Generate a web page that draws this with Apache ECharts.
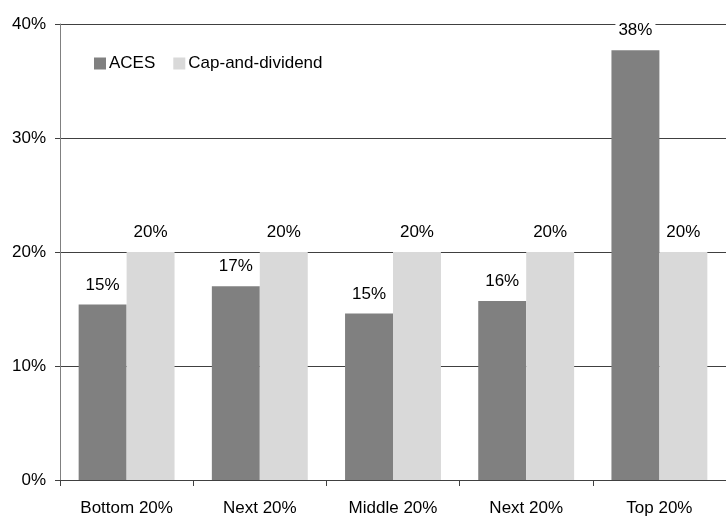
<!DOCTYPE html>
<html>
<head>
<meta charset="utf-8">
<script src="https://cdn.jsdelivr.net/npm/echarts@6/dist/echarts.min.js"></script>
<style>
  html, body { margin: 0; padding: 0; background: #fff; }
  #main { width: 726px; height: 520px; }
</style>
</head>
<body>
<div id="main"></div>
<script>
// 数据
var categories = ['Bottom 20%', 'Next 20%', 'Middle 20%', 'Next 20%', 'Top 20%'];
var acesValues = [15.4, 17.0, 14.6, 15.7, 37.7];
var capValues = [20, 20, 20, 20, 20];
var yTicks = [0, 10, 20, 30, 40];

var FONT = '"Liberation Sans", Arial, sans-serif';

var myChart = echarts.init(document.getElementById('main'));

var labelStyle = {
	show: true,
	position: 'top',
	distance: 10,
	fontFamily: FONT,
	fontSize: 17,
	color: '#000',
	backgroundColor: '#fff',
	padding: [1, 3],
	formatter: function(p){
		return Math.round(p.value) + '%';
	}
};

var option = {
	animation: false,
	textStyle: { fontFamily: FONT },
	legend: {
		left: 89,
		top: 50,
		itemWidth: 12,
		itemHeight: 12,
		itemGap: 18,
		icon: 'rect',
		textStyle: { fontFamily: FONT, fontSize: 17, color: '#000', padding: [0, 0, 0, -2] },
		data: ['ACES', 'Cap-and-dividend']
	},
	grid: { left: 60, right: -1, top: 24, bottom: 40 },
	xAxis: {
		type: 'category',
		data: categories,
		axisLine: { lineStyle: { color: '#404040', width: 1 } },
		axisTick: { show: true, length: 6, alignWithLabel: false, lineStyle: { color: '#404040' } },
		axisLabel: { fontFamily: FONT, fontSize: 17, color: '#000', margin: 20 }
	},
	yAxis: {
		type: 'value',
		min: yTicks[0],
		max: yTicks[yTicks.length - 1],
		interval: 10,
		axisLine: { show: true, lineStyle: { color: '#808080', width: 1 } },
		axisTick: { show: true, length: 5, lineStyle: { color: '#404040' } },
		axisLabel: { fontFamily: FONT, fontSize: 17, color: '#000', margin: 14, formatter: '{value}%' },
		splitLine: { lineStyle: { color: '#404040', width: 1 } }
	},
	series: [
		{
			name: 'ACES',
			type: 'bar',
			data: acesValues,
			barGap: '0%',
			barCategoryGap: '28%',
			itemStyle: { color: '#808080' },
			label: labelStyle
		},
		{
			name: 'Cap-and-dividend',
			type: 'bar',
			data: capValues,
			itemStyle: { color: '#d9d9d9' },
			label: labelStyle
		}
	]
};
myChart.setOption(option);
</script>
</body>
</html>
